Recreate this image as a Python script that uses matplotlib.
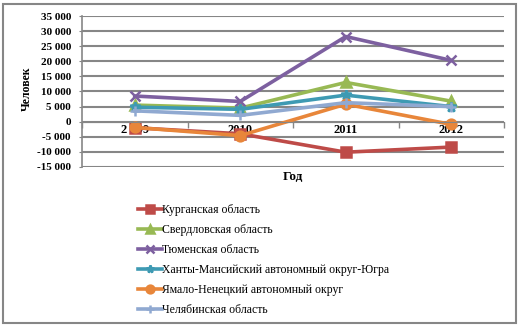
import numpy as np
import matplotlib.pyplot as plt
from matplotlib.patches import Rectangle

# Миграционный прирост по регионам, человек
years = ['2 009', '2010', '2011', '2012']
kurgan = [-2000, -4000, -10100, -8400]
sverdlovsk = [5500, 4500, 13000, 6800]
tyumen = [8500, 6700, 28200, 20300]
hmao = [4800, 4100, 8800, 5000]
yanao = [-1900, -4600, 5800, -900]
chelyabinsk = [3600, 2100, 6300, 5000]

labels = ['Курганская область', 'Свердловская область', 'Тюменская область',
          'Ханты-Мансийский автономный округ-Югра',
          'Ямало-Ненецкий автономный округ', 'Челябинская область']
colors = ['#BE4B48', '#98B954', '#7D60A0', '#3E9AB3', '#E8863A', '#90A9D1']
markers = ['s', '^', 'x', '*', 'o', '+']
series = [kurgan, sverdlovsk, tyumen, hmao, yanao, chelyabinsk]

plt.rcParams['font.family'] = ['Liberation Serif', 'DejaVu Serif']

fig = plt.figure(figsize=(5.2, 3.27), dpi=100)
ax = fig.add_axes([82 / 520, 1 - 167 / 327, (504 - 82) / 520, (167 - 16) / 327])

x = np.arange(len(years))
for vals, lab, c, m in zip(series, labels, colors, markers):
    ax.plot(x, vals, color=c, marker=m, markersize=7, linewidth=2.6,
            markeredgewidth=1.8, label=lab)

ax.set_xlim(-0.5, 3.5)
ax.set_ylim(-15000, 35000)
yt = np.arange(-15000, 35001, 5000)
ax.set_yticks(yt)
ax.set_yticklabels([('-' if v < 0 else '') + f'{abs(v):,}'.replace(',', ' ') for v in yt],
                   fontsize=8, fontweight='bold')
ax.grid(axis='y', color='#868686', linewidth=1.5)
ax.set_axisbelow(True)

# ось X проходит через ноль, подписи годов под ней
ax.spines['bottom'].set_position(('data', 0))
ax.spines['bottom'].set_color('#868686')
ax.spines['left'].set_color('#868686')
ax.spines['left'].set_linewidth(1.2)
ax.spines['top'].set_visible(False)
ax.spines['right'].set_visible(False)
ax.set_xticks(np.arange(-0.5, 3.6, 1))
ax.set_xticklabels([])
ax.set_xticks(x, minor=True)
ax.set_xticklabels(years, minor=True, fontsize=9, fontweight='bold')
ax.tick_params(axis='x', which='major', length=4, color='#868686', width=1)
ax.tick_params(axis='x', which='minor', length=0, pad=2)
ax.tick_params(axis='y', length=2, color='#868686', pad=6)

fig.text(293 / 520, 1 - 177 / 327, 'Год', ha='center', va='center',
         fontsize=9.5, fontweight='bold')
fig.text(27 / 520, 1 - 89 / 327, 'Человек', ha='center', va='center',
         rotation=90, fontsize=8.5, fontweight='bold')

ax.legend(loc='upper left', bbox_to_anchor=(132 / 520, 1 - 198 / 327),
          bbox_transform=fig.transFigure, frameon=False, fontsize=8.5,
          handlelength=2.0, handletextpad=0.05, labelspacing=0.68,
          borderpad=0, markerscale=0.8)

fig.patches.append(Rectangle((3 / 520, 1 - 323 / 327), 513 / 520, 319 / 327,
                             transform=fig.transFigure, fill=False,
                             edgecolor='#868686', linewidth=1.5))

fig.savefig('out.png', dpi=100)
